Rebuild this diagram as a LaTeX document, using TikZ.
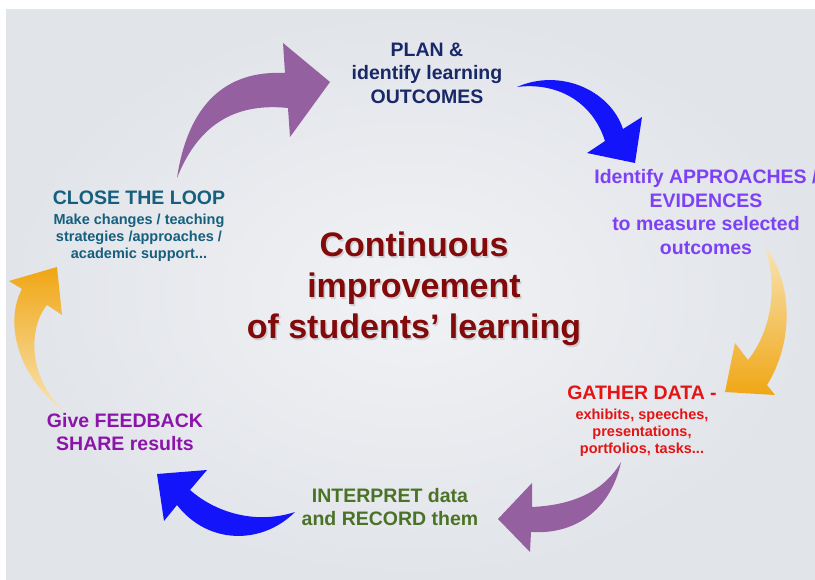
\documentclass[tikz,border=0pt]{standalone}
\usepackage{fontspec}
\setmainfont{Liberation Sans}
\usepackage{tikz}
\usetikzlibrary{positioning}

\definecolor{bginner}{RGB}{241,242,245}
\definecolor{bgouter}{RGB}{225,228,233}
\definecolor{plancol}{RGB}{25,40,105}
\definecolor{closecol}{RGB}{22,95,125}
\definecolor{approachcol}{RGB}{125,65,245}
\definecolor{gathercol}{RGB}{228,20,20}
\definecolor{interpretcol}{RGB}{75,115,40}
\definecolor{feedbackcol}{RGB}{140,20,170}
\definecolor{titlered}{RGB}{130,10,10}
\definecolor{arrowpurple}{RGB}{148,96,160}
\definecolor{arrowblue}{RGB}{20,20,250}
\definecolor{arroworange}{RGB}{240,166,20}
\definecolor{orangefade}{RGB}{248,228,180}

\begin{document}
\begin{tikzpicture}[x=1pt,y=-1pt,
  stage/.style={font=\fontsize{19.5}{23.5}\selectfont\bfseries,
  align=center, inner sep=0pt},
  detail/.style={font=\fontsize{14.5}{17}\selectfont\bfseries,
  align=center, inner sep=0pt},
  title/.style={font=\fontsize{34}{41}\selectfont\bfseries,
  align=center, inner sep=0pt}]
  \useasboundingbox (0,0) rectangle (815,580);
  \fill[white] (0,0) rectangle (815,580);
  \shade[inner color=bginner, outer color=bgouter] (6,10) rectangle (815,580);

  % stages
  \node[stage, text=plancol] (PLAN) at (427,73) {PLAN \&\\identify learning\\OUTCOMES};
  \node[stage, text=approachcol] (APPR) at (706,212) {Identify APPROACHES /\\EVIDENCES\\to measure selected\\outcomes};
  \node[stage, text=gathercol] (GATHER) at (642,393) {GATHER DATA -};
  \node[detail, text=gathercol, below=9pt of GATHER] (GATHERD) {exhibits, speeches,\\presentations,\\portfolios, tasks...};
  \node[stage, text=interpretcol] (INTERP) at (390,507) {INTERPRET data\\and RECORD them};
  \node[stage, text=feedbackcol] (FEED) at (125,432) {Give FEEDBACK\\SHARE results};
  \node[stage, text=closecol] (CLOSE) at (139,198) {CLOSE THE LOOP};
  \node[detail, text=closecol, below=9pt of CLOSE] (CLOSED) {Make changes / teaching\\strategies /approaches /\\academic support...};

  % centre
  \node[title, text=black, opacity=0.13] (TITLESH) at (415.5,290.5) {Continuous\\improvement\\of students’ learning};
  \node[title, text=titlered] (TITLE) at (414,289) {Continuous\\improvement\\of students’ learning};

  % arrows
  \fill[arrowpurple] (177,178) .. controls (188,105) and (225,70) .. (285,73)
    -- (283,43) -- (330,82) -- (290,137) -- (288,108)
    .. controls (240,103) and (200,120) .. (177,178) -- cycle;
  \fill[arrowblue] (517,87) .. controls (560,68) and (610,90) .. (623,129)
    -- (642,117) -- (635,163) -- (587,153) -- (605,141)
    .. controls (592,100) and (555,82) .. (517,87) -- cycle;
  \shade[top color=orangefade, middle color=arroworange, bottom color=arroworange]
    (765,247) .. controls (792,280) and (795,340) .. (767,385)
    -- (775,395) -- (725,392) -- (735,343) -- (748,360)
    .. controls (772,330) and (778,285) .. (765,247) -- cycle;
  \fill[arrowpurple] (621,462) .. controls (612,505) and (580,535) .. (531,532)
    -- (530,552) -- (498,519) -- (532,483) -- (532,507)
    .. controls (575,505) and (605,490) .. (621,462) -- cycle;
  \fill[arrowblue] (295,512) .. controls (262,545) and (208,545) .. (177,505)
    -- (164,521) -- (157,474) -- (207,470) -- (190,490)
    .. controls (215,512) and (255,525) .. (295,512) -- cycle;
  \shade[top color=arroworange, middle color=arroworange, bottom color=orangefade]
    (65,412) .. controls (15,375) and (5,320) .. (22,289)
    -- (9,281) -- (57,267) -- (62,315) -- (47,305)
    .. controls (30,325) and (25,375) .. (65,412) -- cycle;
\end{tikzpicture}
\end{document}
